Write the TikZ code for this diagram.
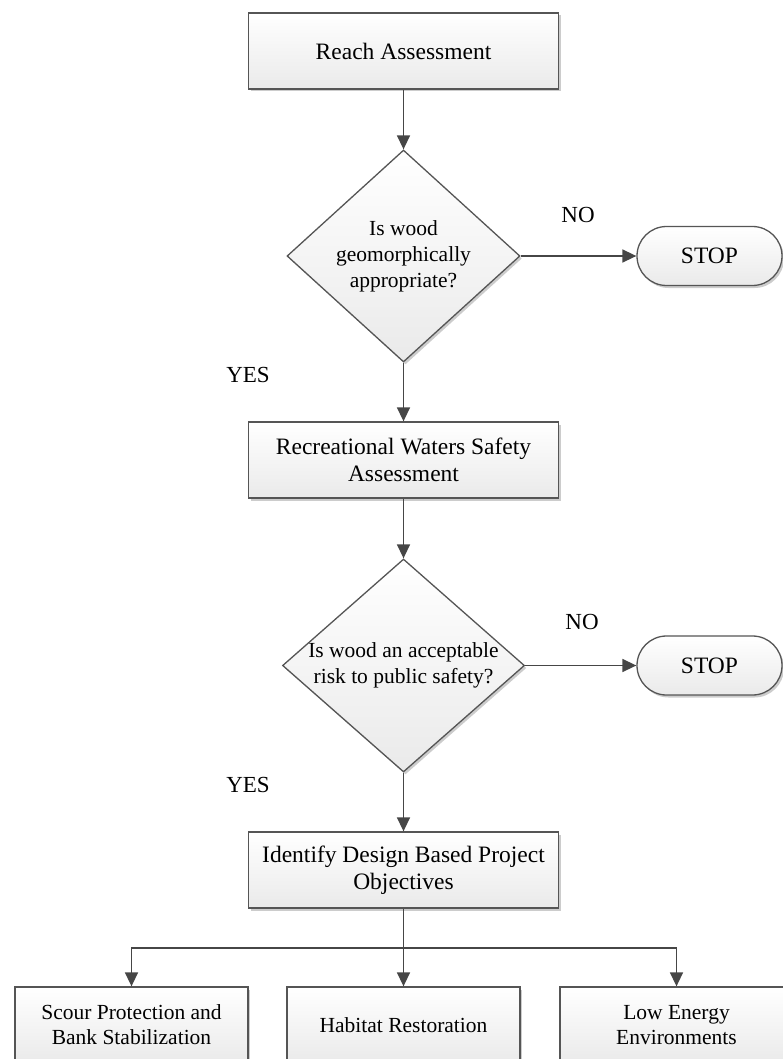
\documentclass[tikz,border=0pt]{standalone}
\usepackage{fontspec}
\setmainfont{Liberation Serif}
\usetikzlibrary{shapes.geometric,shapes.misc,arrows.meta,shadows}
\definecolor{edge}{RGB}{85,85,85}
\definecolor{linec}{RGB}{70,70,70}
\definecolor{fillbot}{RGB}{234,234,234}
\tikzset{
  shadowed/.style={drop shadow={shadow xshift=2pt,shadow yshift=-2.5pt,fill=black,opacity=0.2}},
  procbox/.style={rectangle,draw=edge,line width=1.3pt,top color=white,bottom color=fillbot,
    shadowed,minimum width=310pt,minimum height=76pt,align=center,inner sep=0pt,
    font=\fontsize{23.5}{27}\selectfont},
  outbox/.style={procbox,minimum width=233pt,font=\fontsize{21.5}{25}\selectfont},
  decision/.style={diamond,draw=edge,line width=1.3pt,top color=white,bottom color=fillbot,
    shadowed,inner sep=0pt},
  dtext/.style={align=center,inner sep=0pt,font=\fontsize{21.5}{26}\selectfont},
  stopbox/.style={rounded rectangle,draw=edge,line width=1.3pt,top color=white,bottom color=fillbot,
    shadowed,minimum width=145pt,minimum height=59pt,inner sep=0pt,font=\fontsize{23.5}{27}\selectfont},
  lbl/.style={inner sep=0pt,font=\fontsize{23}{27}\selectfont},
  conn/.style={draw=linec,line width=1.5pt},
  arr/.style={conn,-{Triangle[length=14pt,width=13pt]}}
}
\begin{document}
\begin{tikzpicture}[x=1pt,y=-1pt]
\useasboundingbox (0,0) rectangle (783,1059);
\clip (0,0) rectangle (783,1059);
\node[procbox] (reach) at (403.5,51) {Reach Assessment};
\node[decision,minimum width=233pt,minimum height=212pt] (d1) at (403.5,256) {};
\node[dtext] (d1t) at (d1.center) {Is wood\\geomorphically\\appropriate?};
\node[stopbox] (stop1) at (709.5,256) {STOP};
\node[lbl] (no1) at (578,215) {NO};
\node[lbl] (yes1) at (248,375) {YES};
\node[procbox] (rec) at (403.5,460) {Recreational Waters Safety\\Assessment};
\node[decision,minimum width=242pt,minimum height=213pt] (d2) at (403.5,665.5) {};
\node[dtext] (d2t) at (d2.center) {Is wood an acceptable\\risk to public safety?};
\node[stopbox] (stop2) at (709.5,665.5) {STOP};
\node[lbl] (no2) at (582,622) {NO};
\node[lbl] (yes2) at (248,785) {YES};
\node[procbox] (obj) at (403.5,870) {Identify Design Based Project\\Objectives};
\node[outbox] (o1) at (131.5,1025) {Scour Protection and\\Bank Stabilization};
\node[outbox] (o2) at (403.5,1025) {Habitat Restoration};
\node[outbox] (o3) at (676.5,1025) {Low Energy\\Environments};
\coordinate (split) at (obj.south |- 0,948);
\draw[arr] (reach.south) -- (d1.north);
\draw[arr] (d1.east) -- (stop1.west);
\draw[arr] (d1.south) -- (rec.north);
\draw[arr] (rec.south) -- (d2.north);
\draw[arr] (d2.east) -- (stop2.west);
\draw[arr] (d2.south) -- (obj.north);
\draw[conn] (obj.south) -- (split);
\draw[arr] (split) -| (o1.north);
\draw[arr] (split) -- (o2.north);
\draw[arr] (split) -| (o3.north);
\end{tikzpicture}
\end{document}
